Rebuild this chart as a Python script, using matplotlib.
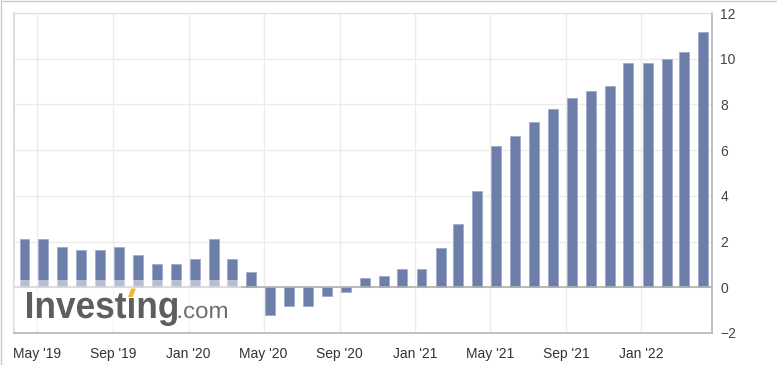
import numpy as np
import pandas as pd
import matplotlib
matplotlib.use("Agg")
import matplotlib.pyplot as plt
import matplotlib.dates as mdates
from matplotlib.patches import Rectangle, Polygon, PathPatch
from matplotlib.lines import Line2D
from matplotlib.textpath import TextPath
from matplotlib.font_manager import FontProperties
from matplotlib.path import Path

plt.rcParams['font.family'] = ['Liberation Sans', 'DejaVu Sans']

# monthly values, Apr '19 .. Apr '22
values = [2.1, 2.1, 1.75, 1.65, 1.65, 1.75, 1.4, 1.0, 1.0, 1.25, 2.1, 1.25,
          0.67, -1.2, -0.8, -0.8, -0.4, -0.2, 0.4, 0.5, 0.8, 0.8, 1.7, 2.75,
          4.2, 6.2, 6.6, 7.25, 7.8, 8.3, 8.6, 8.8, 9.8, 9.8, 10.0, 10.3, 11.15]
dates = pd.date_range('2019-04-01', periods=len(values), freq='MS') + pd.Timedelta(days=10)
tick_dates = pd.date_range('2019-05-01', '2022-01-01', freq='4MS')
tick_labels = ["May '19", "Sep '19", "Jan '20", "May '20", "Sep '20",
               "Jan '21", "May '21", "Sep '21", "Jan '22"]
y_ticks = [-2, 0, 2, 4, 6, 8, 10, 12]

W, H = 777, 365
fig = plt.figure(figsize=(W / 100, H / 100), dpi=100)
ax = fig.add_axes([14 / W, 1 - 333 / H, (712 - 14) / W, (333 - 13) / H])

ax.bar(mdates.date2num(dates), values, width=16, color='#6d7eab',
       edgecolor='#9fabcb', linewidth=0.6, zorder=3)

ax.set_xlim(mdates.date2num(pd.Timestamp('2019-03-25')),
            mdates.date2num(pd.Timestamp('2022-04-25')))
ax.set_ylim(-2, 12)
ax.set_xticks(mdates.date2num(tick_dates))
ax.set_xticklabels(tick_labels)
ax.set_yticks(y_ticks)

ax.yaxis.tick_right()
ax.tick_params(axis='y', length=0, pad=6, labelsize=10, labelcolor='#444444')
ax.tick_params(axis='x', length=0, pad=10, labelsize=10, labelcolor='#333333')
ax.grid(True, color='#ececec', linewidth=1, zorder=0)
ax.axhline(0, color='#b0b0b0', linewidth=1.2, zorder=4)

for side in ['left', 'top']:
    ax.spines[side].set_color('#dddddd')
for side in ['right', 'bottom']:
    ax.spines[side].set_color('#b5b5b5')
    ax.spines[side].set_linewidth(1.2)
ax.spines['left'].set_linewidth(1.5)


def logo_text(s, weight, x0, x1, top, base, color, ref_char):
    # fit text outline into a pixel box (x0..x1, top..baseline)
    fp = FontProperties(family='Liberation Sans', weight=weight)
    tp = TextPath((0, 0), s, size=10, prop=fp)
    h = TextPath((0, 0), ref_char, size=10, prop=fp).get_extents().y1
    ext = tp.get_extents()
    sx = (x1 - x0) / ext.width
    sy = (base - top) / h
    v = tp.vertices.copy()
    v[:, 0] = x0 + (v[:, 0] - ext.x0) * sx
    v[:, 1] = (H - base) + v[:, 1] * sy
    v[:, 0] /= W
    v[:, 1] /= H
    fig.patches.append(PathPatch(Path(v, tp.codes), transform=fig.transFigure,
                                 facecolor=color, edgecolor='none', zorder=6))
    return fp, ext, sx


# watermark
fig.patches.append(Rectangle((14 / W, 1 - 330 / H), (241 - 14) / W, (330 - 280) / H,
                             transform=fig.transFigure, facecolor='white',
                             alpha=0.5, edgecolor='none', zorder=5))
fp, ext, sx = logo_text('Invest\u0131ng', 'bold', 27, 177, 292, 318, '#5e5e5e', 'I')
logo_text('.com', 'normal', 178.5, 227, 306, 318, '#6e6e6e', 'x')

# yellow dot over the i
ix0 = 27 + (TextPath((0, 0), 'Invest', size=10, prop=fp).get_extents().x1 - ext.x0) * sx + 2
ix1 = 27 + (TextPath((0, 0), 'Invest\u0131', size=10, prop=fp).get_extents().x1 - ext.x0) * sx
fig.patches.append(Polygon([(ix0 / W, 1 - 297 / H), ((ix0 + 3) / W, 1 - 288.5 / H),
                            ((ix1 + 2) / W, 1 - 288.5 / H), ((ix1 - 1) / W, 1 - 297 / H)],
                           closed=True, transform=fig.transFigure,
                           facecolor='#f2b632', edgecolor='none', zorder=7))

# outer frame
fig.lines.append(Line2D([3 / W, 1], [1 - 0.5 / H, 1 - 0.5 / H], transform=fig.transFigure,
                        color='#c8c8c8', linewidth=1))
fig.lines.append(Line2D([1 / W, 1 / W], [0, 1], transform=fig.transFigure,
                        color='#c8c8c8', linewidth=1))

fig.savefig('out.png', dpi=100)
